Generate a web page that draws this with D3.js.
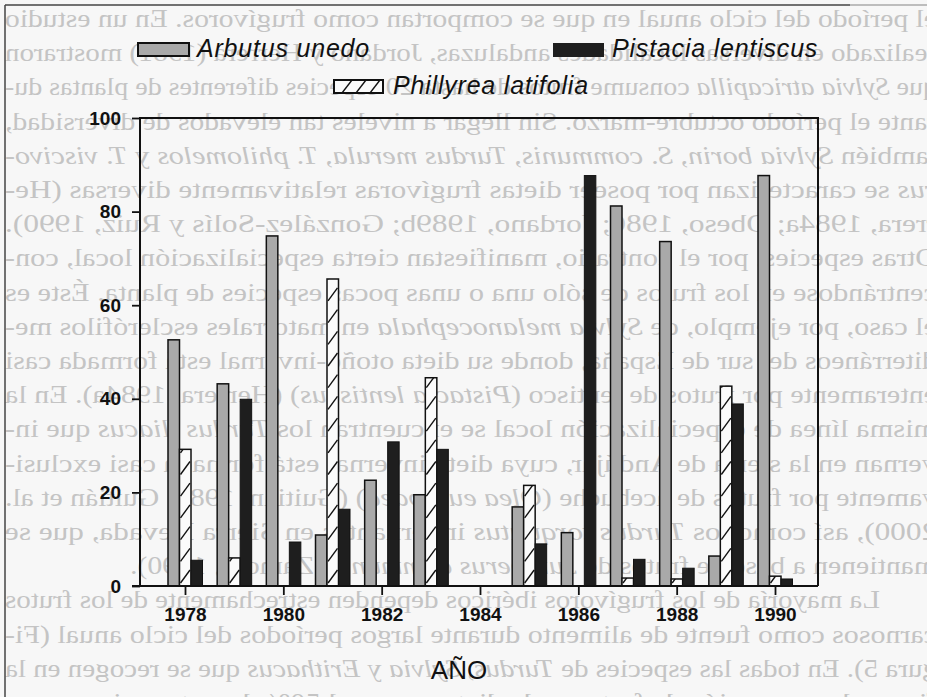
<!DOCTYPE html>
<html>
<head>
<meta charset="utf-8">
<script src="https://cdn.jsdelivr.net/npm/d3@7"></script>
<style>
  body { margin: 0; background: #f7f7f7; }
  svg { display: block; }
</style>
</head>
<body>
<svg id="chart" width="927" height="697"></svg>
<script>
// values (% of diet)
var years = [1978, 1979, 1980, 1981, 1982, 1983, 1984, 1985, 1986, 1987, 1988, 1989, 1990];
var arbutus   = [52.6, 43.2, 74.8, 10.9, 22.6, 19.5, 0, 16.9, 11.4, 81.2, 73.6, 6.4, 87.7];
var phillyrea = [29.2,  6.0,  0,   65.6,  0,   44.5, 0, 21.5,  0,    1.7,  1.5, 42.7, 2.1];
var pistacia  = [ 5.5, 39.9,  9.4, 16.4, 30.8, 29.2, 0,  9.0, 87.7,  5.7,  3.8, 38.9, 1.5];
var seriesNames = ['Arbutus unedo', 'Phillyrea latifolia', 'Pistacia lentiscus'];
var yTicks = [0, 20, 40, 60, 80, 100];
var xTicks = [1978, 1980, 1982, 1984, 1986, 1988, 1990];
var xTitle = 'AÑO';

// the back of the page shows through the scan (mirrored)
var pageLines = [
  'el período del ciclo anual en que se comportan como frugívoros. En un estudio',
  'realizado en diversas localidades andaluzas, Jordano y Herrera (1981) mostraron',
  'que *Sylvia atricapilla* consume frutos de hasta 20 especies diferentes de plantas du-',
  'rante el período octubre-marzo. Sin llegar a niveles tan elevados de diversidad,',
  'también *Sylvia borin, S. communis, Turdus merula, T. philomelos* y *T. viscivo-*',
  '*rus* se caracterizan por poseer dietas frugívoras relativamente diversas (He-',
  'rrera, 1984a; Obeso, 1986; Jordano, 1989b; González-Solís y Ruiz, 1990).',
  'Otras especies, por el contrario, manifiestan cierta especialización local, con-',
  'centrándose en los frutos de sólo una o unas pocas especies de planta. Éste es',
  'el caso, por ejemplo, de *Sylvia melanocephala* en matorrales esclerófilos me-',
  'diterráneos del sur de España, donde su dieta otoño-invernal está formada casi',
  'enteramente por frutos de lentisco (*Pistacia lentiscus*) (Herrera, 1984a). En la',
  'misma línea de especialización local se encuentran los *Turdus iliacus* que in-',
  'vernan en la sierra de Andújar, cuya dieta invernal está formada casi exclusi-',
  'vamente por frutos de acebuche (*Olea europaea*) (Guitián, 1989; Guitián et al.',
  '2000), así como los *Turdus torquatus* invernantes en Sierra Nevada, que se',
  'mantienen a base de frutos de *Juniperus communis* (Zamora, 1990).',
  'La mayoría de los frugívoros ibéricos dependen estrechamente de los frutos',
  'carnosos como fuente de alimento durante largos períodos del ciclo anual (Fi-',
  'gura 5). En todas las especies de *Turdus, Sylvia* y *Erithacus* que se recogen en la',
  'figura, la proporción de frutos en la dieta supera el 50% durante varios meses'
];

var W = 927, H = 697;
var frame = { left: 140, right: 818, top: 118, bottom: 586 };
var bw = 11.5;

var svg = d3.select('#chart');

// ---- bleed-through text ----
var back = svg.append('g')
  .attr('transform', 'translate(' + W + ',0) scale(-1,1)')
  .attr('fill', '#c4c4c4')
  .style('font-family', '"Liberation Serif", "DejaVu Serif", serif')
  .style('font-size', '25px');

pageLines.forEach(function(line, i) {
  var x0 = -10, x1 = 922;
  if (i === 17) x0 = 47;          // paragraph indent
  if (i === 16) x1 = 797;         // end of paragraph
  var t = back.append('text')
    .attr('x', x0)
    .attr('y', 27 + i * 34.2)
    .attr('textLength', x1 - x0)
    .attr('lengthAdjust', 'spacingAndGlyphs');
  var parts = line.split('*');
  parts.forEach(function(p, k) {
    if (!p) return;
    t.append('tspan').style('font-style', k % 2 ? 'italic' : 'normal').text(p);
  });
});

// outer border of the scanned page
svg.append('line').attr('x1', 5).attr('y1', 5).attr('x2', 5).attr('y2', H)
  .attr('stroke', '#444').attr('stroke-width', 1.5);
svg.append('line').attr('x1', 5).attr('y1', 5).attr('x2', 850).attr('y2', 5)
  .attr('stroke', '#444').attr('stroke-width', 1.5);
svg.append('line').attr('x1', 850).attr('y1', 5).attr('x2', W).attr('y2', 5)
  .attr('stroke', '#aaa').attr('stroke-width', 1.5);

// ---- scales ----
var x = d3.scaleLinear().domain([1978, 1990]).range([185, 775]);
var y = d3.scaleLinear().domain([0, 100]).range([frame.bottom, frame.top]);

var defs = svg.append('defs');

function hatch(g, left, top, w, h, id, step, rise) {
  defs.append('clipPath').attr('id', id)
    .append('rect').attr('x', left).attr('y', top).attr('width', w).attr('height', h);
  var hg = g.append('g').attr('clip-path', 'url(#' + id + ')')
    .attr('stroke', '#111').attr('stroke-width', 1.4);
  for (var yy = top + h - 3; yy > top - rise; yy -= step) {
    hg.append('line')
      .attr('x1', left + 1).attr('y1', yy)
      .attr('x2', left + w - 1).attr('y2', yy - rise);
  }
}

// ---- bars ----
var bars = svg.append('g');
years.forEach(function(yr, i) {
  var left = x(yr) - 17;
  if (arbutus[i] > 0) {
    bars.append('rect')
      .attr('x', left).attr('y', y(arbutus[i]))
      .attr('width', bw).attr('height', y(0) - y(arbutus[i]))
      .attr('fill', '#a9a9a9').attr('stroke', '#111').attr('stroke-width', 1.5);
  }
  if (phillyrea[i] > 0) {
    var hl = left + bw, ht = y(phillyrea[i]), hh = y(0) - y(phillyrea[i]);
    bars.append('rect')
      .attr('x', hl).attr('y', ht).attr('width', bw).attr('height', hh)
      .attr('fill', '#fbfbfb');
    hatch(bars, hl, ht, bw, hh, 'hb' + i, 21.7, 13);
    bars.append('rect')
      .attr('x', hl).attr('y', ht).attr('width', bw).attr('height', hh)
      .attr('fill', 'none').attr('stroke', '#111').attr('stroke-width', 1.5);
  }
  if (pistacia[i] > 0) {
    bars.append('rect')
      .attr('x', left + 2 * bw).attr('y', y(pistacia[i]))
      .attr('width', bw).attr('height', y(0) - y(pistacia[i]))
      .attr('fill', '#1e1e1e').attr('stroke', '#111').attr('stroke-width', 1);
  }
});

// ---- frame and axes ----
svg.append('path')
  .attr('d', 'M' + frame.left + ',' + frame.bottom + 'V' + frame.top + 'H' + frame.right + 'V' + frame.bottom)
  .attr('fill', 'none').attr('stroke', '#111').attr('stroke-width', 2);
svg.append('line')
  .attr('x1', 132).attr('x2', frame.right).attr('y1', frame.bottom).attr('y2', frame.bottom)
  .attr('stroke', '#111').attr('stroke-width', 2);

var yAxis = svg.append('g')
  .attr('transform', 'translate(' + frame.left + ',0)')
  .call(d3.axisLeft(y).tickValues(yTicks).tickSize(8).tickPadding(11));
var xAxis = svg.append('g')
  .attr('transform', 'translate(0,' + frame.bottom + ')')
  .call(d3.axisBottom(x).tickValues(xTicks).tickSize(9).tickPadding(13).tickFormat(d3.format('d')));

[yAxis, xAxis].forEach(function(a) {
  a.select('.domain').remove();
  a.selectAll('line').attr('stroke', '#111').attr('stroke-width', 1.8);
  a.selectAll('text')
    .attr('fill', '#111')
    .style('font-family', '"Liberation Sans", Arial, sans-serif')
    .style('font-size', '19px')
    .style('font-weight', 'bold');
});

svg.append('text')
  .attr('x', 459).attr('y', 679)
  .attr('text-anchor', 'middle')
  .attr('fill', '#111')
  .style('font-family', '"Liberation Sans", Arial, sans-serif')
  .style('font-size', '26px')
  .text(xTitle);

// ---- legend ----
var legendPos = [
  { sx: 138, sy: 43, tx: 197, ty: 57 },
  { sx: 334, sy: 80, tx: 393, ty: 94 },
  { sx: 553, sy: 43, tx: 612, ty: 57 }
];
var legend = svg.append('g');
seriesNames.forEach(function(name, i) {
  var p = legendPos[i];
  if (i === 0) {
    legend.append('rect').attr('x', p.sx).attr('y', p.sy).attr('width', 51).attr('height', 13)
      .attr('fill', '#a9a9a9').attr('stroke', '#111').attr('stroke-width', 2);
  } else if (i === 1) {
    legend.append('rect').attr('x', p.sx).attr('y', p.sy).attr('width', 49).attr('height', 13)
      .attr('fill', '#fbfbfb');
    defs.append('clipPath').attr('id', 'legclip')
      .append('rect').attr('x', p.sx).attr('y', p.sy).attr('width', 49).attr('height', 13);
    var g2 = legend.append('g').attr('clip-path', 'url(#legclip)')
      .attr('stroke', '#111').attr('stroke-width', 1.4);
    [8, 22, 36].forEach(function(dx) {
      g2.append('line').attr('x1', p.sx + dx).attr('y1', p.sy + 13)
        .attr('x2', p.sx + dx + 10).attr('y2', p.sy);
    });
    legend.append('rect').attr('x', p.sx).attr('y', p.sy).attr('width', 49).attr('height', 13)
      .attr('fill', 'none').attr('stroke', '#111').attr('stroke-width', 2);
  } else {
    legend.append('rect').attr('x', p.sx).attr('y', p.sy).attr('width', 51).attr('height', 14)
      .attr('fill', '#1e1e1e');
  }
  legend.append('text')
    .attr('x', p.tx).attr('y', p.ty)
    .attr('fill', '#111')
    .style('font-family', '"Liberation Sans", Arial, sans-serif')
    .style('font-size', '25px')
    .style('font-style', 'italic')
    .style('letter-spacing', '0.8px')
    .text(name);
});
</script>
</body>
</html>
